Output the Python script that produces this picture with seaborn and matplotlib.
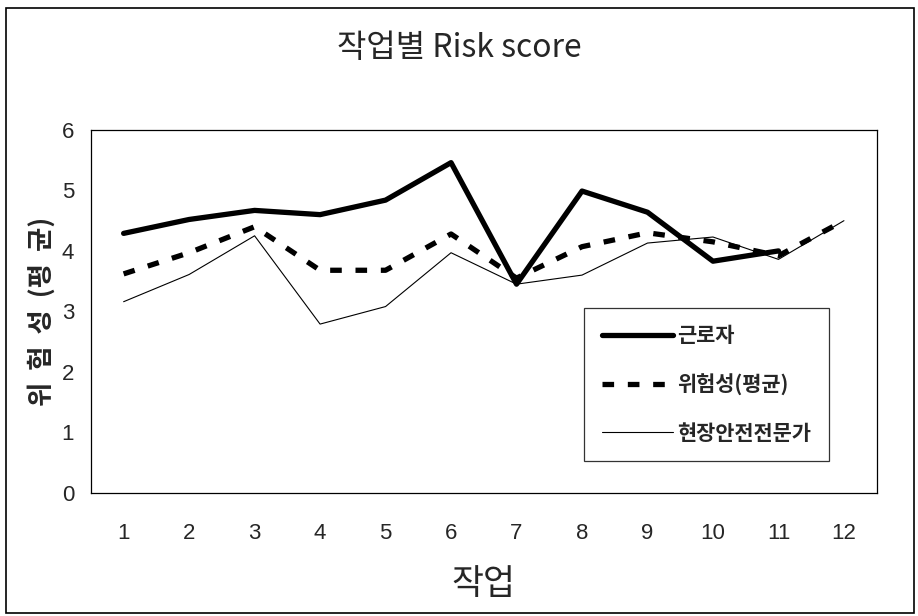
import pandas as pd
import seaborn as sns
import matplotlib.pyplot as plt
from matplotlib.patches import Rectangle

# values
tasks = list(range(1, 13))
worker = [4.29, 4.52, 4.67, 4.60, 4.84, 5.46, 3.45, 4.99, 4.64, 3.83, 4.00, None]
risk_avg = [3.62, 3.97, 4.40, 3.68, 3.68, 4.28, 3.55, 4.07, 4.30, 4.15, 3.92, 4.50]
expert = [3.16, 3.61, 4.25, 2.79, 3.08, 3.97, 3.45, 3.60, 4.13, 4.23, 3.86, 4.50]

labels = ["근로자", "위험성(평균)", "현장안전전문가"]

df = pd.DataFrame({"작업": tasks, labels[0]: worker, labels[1]: risk_avg, labels[2]: expert})
long_df = df.melt(id_vars="작업", var_name="series", value_name="score").dropna()

sns.set_theme(style="white")
plt.rcParams["font.family"] = ["Noto Sans CJK KR", "DejaVu Sans"]

fig = plt.figure(figsize=(9.18, 6.16), dpi=100)
ax = fig.add_axes([0.099, 0.2, 0.856, 0.589])

styles = {
    labels[0]: dict(linewidth=3.8, linestyle="-"),
    labels[1]: dict(linewidth=3.8, linestyle=(0, (2.2, 2.6))),
    labels[2]: dict(linewidth=0.8, linestyle="-"),
}
for name in labels:
    sub = long_df[long_df["series"] == name]
    sns.lineplot(data=sub, x="작업", y="score", ax=ax, color="black",
                 label=name, **styles[name])

ax.set_xlim(0.5, 12.5)
ax.set_ylim(0, 6)
ax.set_xticks(tasks)
ax.set_xticks([i + 0.5 for i in range(0, 13)], minor=True)
ax.set_yticks(range(0, 7))
ax.tick_params(axis="x", which="major", length=0, labelsize=16, pad=22)
ax.tick_params(axis="x", which="minor", direction="in", length=6, width=0.8, color="black")
ax.tick_params(axis="y", direction="inout", length=8, width=0.8, color="black", labelsize=16, pad=8)
for lab in ax.get_xticklabels() + ax.get_yticklabels():
    lab.set_family(["Liberation Sans", "DejaVu Sans"])
for s in ax.spines.values():
    s.set_color("black")
    s.set_linewidth(0.9)

ax.set_xlabel("작업", fontsize=25, labelpad=16)
ax.set_ylabel("위  험  성  (평  균)", fontsize=19, fontweight="bold", labelpad=4)
fig.suptitle("작업별 Risk score", fontsize=23, y=0.948)

leg = ax.legend(loc="upper left", bbox_to_anchor=(0.628, 0.51), borderaxespad=0,
                frameon=True, fancybox=False, edgecolor="black", fontsize=15,
                handlelength=3.4, labelspacing=1.3, borderpad=0.85, handletextpad=0.2)
leg.get_frame().set_linewidth(0.9)
for t in leg.get_texts():
    t.set_fontweight("bold")

# outer chart border
fig.patches.append(Rectangle((0.006, 0.005), 0.99, 0.982, transform=fig.transFigure,
                             fill=False, edgecolor="black", linewidth=1.2))

fig.savefig("out.png", dpi=100)
